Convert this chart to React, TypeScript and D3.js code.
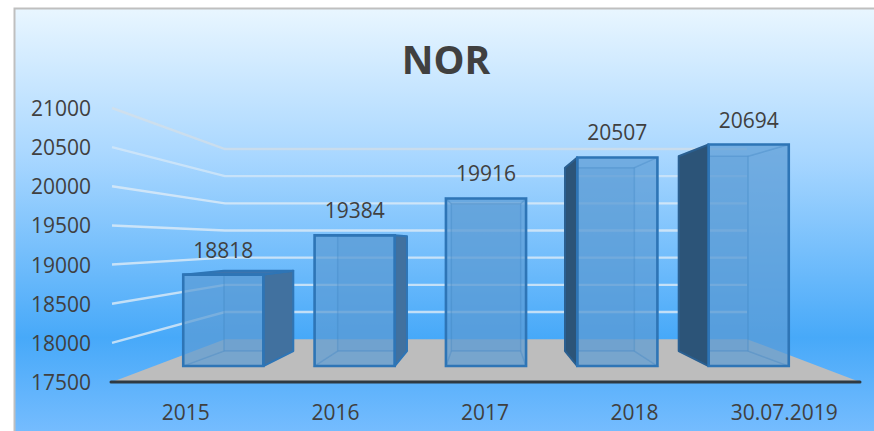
import React from "react";
import * as d3 from "d3";

const title = "NOR";
const categories = ["2015", "2016", "2017", "2018", "30.07.2019"];
const values = [18818, 19384, 19916, 20507, 20694];
const yTicks = [17500, 18000, 18500, 19000, 19500, 20000, 20500, 21000];

const W = 874;
const H = 431;
const FONT = "'Open Sans', sans-serif";
const TEXT = "#404040";

// front plane of the 3D box
const x = d3.scaleBand<string>().domain(categories).range([112, 860]).paddingInner(0.39).paddingOuter(0.195);
const xStep = d3.scaleBand<string>().domain(categories).range([112, 860]);
const y = d3.scaleLinear().domain([17500, 21000]).range([382, 108]);

// perspective: depth scale around a vanishing point
const VX = 486;
const VY = 242;
const WALL = { sx: 0.698, sy: 0.694 };
const BAR_FRONT = { sx: 0.878, sy: 0.886 };
const BAR_BACK = { sx: 0.76, sy: 0.779 };
const FRONT = { sx: 1, sy: 1 };
type Depth = { sx: number; sy: number };
const project = (px: number, v: number, d: Depth): [number, number] => [VX + (px - VX) * d.sx, VY + (y(v) - VY) * d.sy];
const pts = (a: [number, number][]) => a.map((p) => p.join(",")).join(" ");

const BORDER = "#2E75B6";

function Bar({ cat, value }: { cat: string; value: number }) {
  const x0 = x(cat)!;
  const x1 = x0 + x.bandwidth();
  const base = yTicks[0];
  const F = BAR_FRONT;
  const B = BAR_BACK;
  const fbl = project(x0, base, F);
  const fbr = project(x1, base, F);
  const ftl = project(x0, value, F);
  const ftr = project(x1, value, F);
  const bbl = project(x0, base, B);
  const bbr = project(x1, base, B);
  const btl = project(x0, value, B);
  const btr = project(x1, value, B);
  const leftOut = bbl[0] < fbl[0] - 4;
  const rightOut = bbr[0] > fbr[0] + 4;
  const topOut = btl[1] < ftl[1];
  const inner = { fill: "#5B9BD5", fillOpacity: 0.5, stroke: BORDER, strokeOpacity: 0.22, strokeWidth: 1.4 };
  const outerEdge = { stroke: BORDER, strokeWidth: 2, strokeLinejoin: "round" as const };
  return (
    <g>
      <polygon points={pts([bbl, bbr, btr, btl])} {...inner} fillOpacity={0.62} />
      <polygon points={pts([fbl, fbr, bbr, bbl])} {...inner} />
      {!leftOut && <polygon points={pts([fbl, ftl, btl, bbl])} {...inner} />}
      {!rightOut && <polygon points={pts([fbr, ftr, btr, bbr])} {...inner} />}
      {!topOut && <polygon points={pts([ftl, ftr, btr, btl])} {...inner} />}
      <polygon points={pts([fbl, fbr, ftr, ftl])} fill="#5B9BD5" fillOpacity={0.42} />
      {leftOut && <polygon points={pts([fbl, ftl, btl, bbl])} fill="#2C5478" {...outerEdge} stroke="#2A5F90" />}
      {rightOut && <polygon points={pts([fbr, ftr, btr, bbr])} fill="#41719F" {...outerEdge} />}
      {topOut && <polygon points={pts([ftl, ftr, btr, btl])} fill="#3C74AE" {...outerEdge} />}
      <polygon points={pts([fbl, fbr, ftr, ftl])} fill="none" stroke={BORDER} strokeWidth={2.6} />
    </g>
  );
}

export default function App() {
  const floor = pts([
    project(112, yTicks[0], FRONT),
    project(860, yTicks[0], FRONT),
    project(860, yTicks[0], WALL),
    project(112, yTicks[0], WALL),
  ]);
  return (
    <svg width={W} height={H} style={{ position: "fixed", left: 0, top: 0, display: "block" }} fontFamily={FONT}>
      <defs>
        <linearGradient id="bg" x1="0" y1="8" x2="0" y2="431" gradientUnits="userSpaceOnUse">
          <stop offset="0" stopColor="#E9F6FF" />
          <stop offset="0.35" stopColor="#A9D7FF" />
          <stop offset="0.78" stopColor="#47A9F9" />
          <stop offset="1" stopColor="#75BCFE" />
        </linearGradient>
      </defs>
      <rect width={W} height={H} fill="#fff" />
      <rect x={15} y={9} width={W - 15} height={H - 9} fill="url(#bg)" />
      <path d={`M14.5,${H}V8.5H${W}`} fill="none" stroke="#BFBFBF" strokeWidth={2} />

      <polygon points={floor} fill="#BDBDBD" />
      {yTicks.slice(1).map((t) => {
        const a = project(112, t, FRONT);
        const b = project(112, t, WALL);
        const c = project(860, t, WALL);
        return (
          <polyline
            key={t}
            points={pts([a, b, c])}
            fill="none"
            stroke={t === 21000 ? "#D8DEE4" : "#DDEBF6"}
            strokeOpacity={t >= 20500 ? 0.65 : 0.8}
            strokeWidth={2.4}
          />
        );
      })}
      <line x1={111} x2={860} y1={y(yTicks[0])} y2={y(yTicks[0])} stroke="#2F3A42" strokeWidth={3} strokeLinecap="round" />

      {categories.map((c, i) => (
        <Bar key={c} cat={c} value={values[i]} />
      ))}

      <text x={446} y={74} textAnchor="middle" fontSize={39} fontWeight={700} fill={TEXT}>
        {title}
      </text>

      {yTicks.map((t) => (
        <text key={t} x={91} y={y(t) + 8} textAnchor="end" fontSize={21} fill={TEXT}>
          {t}
        </text>
      ))}
      {categories.map((c) => (
        <text key={c} x={xStep(c)! + xStep.bandwidth() / 2 - 1} y={420} textAnchor="middle" fontSize={21} fill={TEXT}>
          {c}
        </text>
      ))}
      {categories.map((c, i) => {
        const a = project(x(c)! + x.bandwidth() / 2, values[i], BAR_FRONT);
        return (
          <text key={c} x={a[0]} y={a[1] - 17} textAnchor="middle" fontSize={21} fill={TEXT}>
            {values[i]}
          </text>
        );
      })}
    </svg>
  );
}
